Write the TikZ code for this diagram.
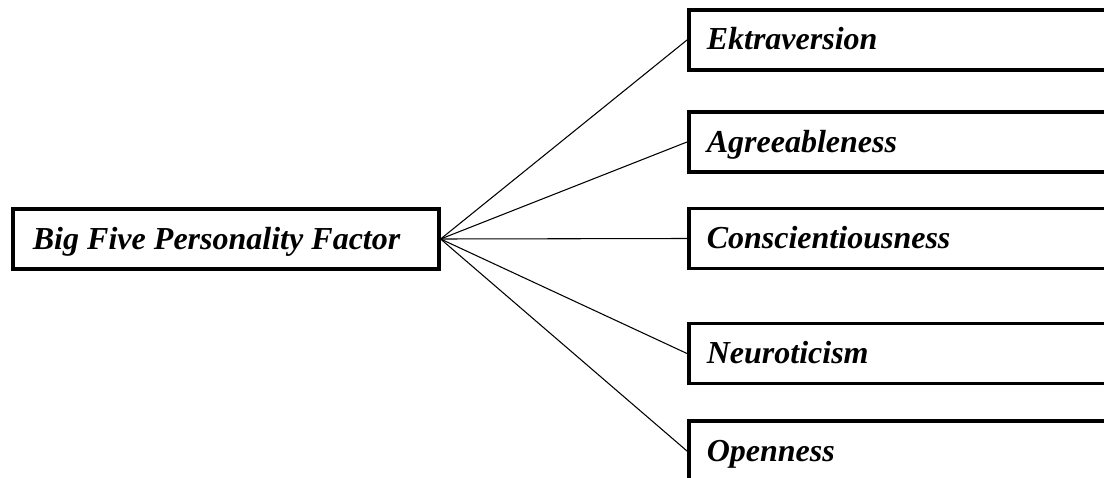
\documentclass[tikz,border=0pt]{standalone}
\usepackage{fontspec}
\setmainfont{Liberation Serif}
\begin{document}
\begin{tikzpicture}[x=0.75pt,y=-0.75pt,
  box/.style={draw=black, line width=2.7pt, rectangle, anchor=west,
    minimum height=45pt, inner ysep=0pt, align=left,
    text height=18pt, text depth=3pt,
    font=\fontsize{24}{28}\selectfont\bfseries\itshape},
  leftbox/.style={box, inner xsep=15pt, text width=289.5pt,
    execute at begin node={\spaceskip=6.1pt\relax}},
  rightbox/.style={box, inner xsep=13.5pt, text width=295pt},
  conn/.style={draw=black, line width=0.8pt}]
\useasboundingbox (0,0) rectangle (1104,478);
\clip (0,0) rectangle (1104,478);
\node[leftbox] (L) at (11,239) {Big Five Personality Factor};
\node[rightbox] (E) at (687,40) {Ektraversion};
\node[rightbox] (A) at (687,142) {Agreeableness};
\node[rightbox] (C) at (687,238.5) {Conscientiousness};
\node[rightbox] (N) at (687,353.5) {Neuroticism};
\node[rightbox] (O) at (687,451) {Openness};
\foreach \t in {E,A,C,N,O}{
  \draw[conn] (L.east) -- (\t.west);
}
\end{tikzpicture}
\end{document}
